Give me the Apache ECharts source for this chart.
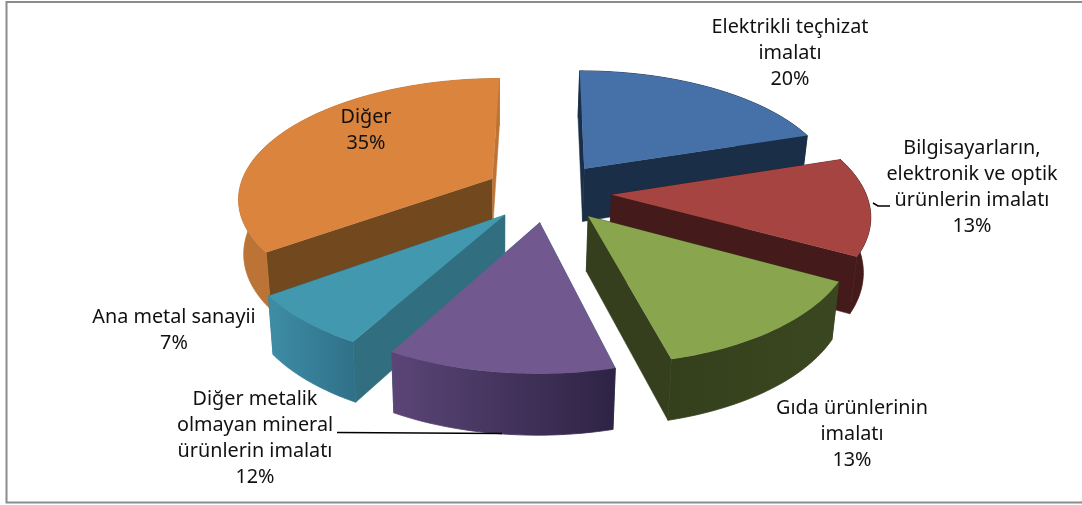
<!DOCTYPE html>
<html><head><meta charset="utf-8">
<style>html,body{margin:0;padding:0;background:#fff}#c{width:1082px;height:505px}</style>
<script src="https://cdn.jsdelivr.net/npm/echarts@6/dist/echarts.min.js"></script>
</head><body><div id="c"></div>
<script>
const categories = ['Elektrikli teçhizat\nimalatı','Bilgisayarların,\nelektronik ve optik\nürünlerin imalatı','Gıda ürünlerinin\nimalatı','Diğer metalik\nolmayan mineral\nürünlerin imalatı','Ana metal sanayii','Diğer'];
const values = [20,13,13,12,7,35];

const topColors = ['#4671A8','#A64441','#89A54E','#71588F','#4198AF','#DB843D'];
const startWall = ['#1A2E48','#441A1A','#353F1D','#316F80','#316F80','#72481F'];
const endWall = ['#1A2E48','#441A1A','#353F1D','#316F80','#316F80','#BC7436'];
const outerStops = [['#1A2E48','#1A2E48'],['#451A1A','#451A1A'],['#34401C','#3A4720'],['#5B4577','#2E2344'],['#3E8DA6','#2F7088'],['#BC7436','#BC7436']];
const labelPos = [[790,53.5],[972,187.5],[852,434.5],[255,438.5],[174,330.5],[366,130.5]];

const G = {cx:548, cy:192, rx:254, ry:118.7, k:0.148, explode:0.25, bottomScale:0.98, bottomShift:-1};
const total = values.reduce((a,b)=>a+b,0);
let acc = 0;
const slices = values.map((v,i)=>{const a0=acc/total*2*Math.PI; acc+=v; const a1=acc/total*2*Math.PI;
  const m=(a0+a1)/2; return {i,a0,a1,ex:G.explode*Math.sin(m),ey:-G.explode*Math.cos(m)};});
const order = slices.slice().sort((a,b)=>a.ey-b.ey).map(s=>s.i);

function proj(X,Y){const p=1/(1-G.k*Y); return [G.cx+G.rx*X*p, G.cy+G.ry*Y*p, Y];}
function bottom(P){return [G.cx+G.bottomShift+(P[0]-G.cx)*G.bottomScale, P[1]+54+6*P[2]];}
function rim(s,a){return proj(s.ex+Math.sin(a), s.ey-Math.cos(a));}
const xy=p=>p.slice(0,2);

function renderItem(params, api){
  const s = slices[order[params.dataIndex]];
  const apex = proj(s.ex,s.ey), apexB = bottom(apex);
  const arc=[]; const n=Math.max(8,Math.round((s.a1-s.a0)/(Math.PI/120)));
  for(let j=0;j<=n;j++) arc.push(rim(s,s.a0+(s.a1-s.a0)*j/n));
  const arcB=arc.map(bottom);
  const stops=outerStops[s.i];
  const wall=(pts,fill)=>({type:'polygon',silent:true,shape:{points:pts},style:{fill,stroke:fill,lineWidth:0.5}});
  const grad=()=>new echarts.graphic.LinearGradient(0,0,1,0,[{offset:0,color:stops[0]},{offset:1,color:stops[1]}]);
  const children=[
    wall([apex,arc[0],arcB[0],apexB].map(xy),startWall[s.i]),
    wall([apex,arc[n],arcB[n],apexB].map(xy),endWall[s.i]),
    {type:'polygon',silent:true,shape:{points:arc.map(xy).concat(arcB.slice().reverse())},
      style:{fill:grad(),stroke:grad(),lineWidth:0.8}},
    {type:'polygon',silent:true,shape:{points:[xy(apex)].concat(arc.map(xy))},style:{fill:topColors[s.i]}}
  ];
  return {type:'group',children};
}

const font='"Noto Sans"';
const chart=echarts.init(document.getElementById('c'),null,{renderer:'canvas'});
const pct=values.map(v=>v+'%');
chart.setOption({
  animation:false,
  backgroundColor:'#fff',
  series:[{type:'custom',coordinateSystem:'none',renderItem,data:order.map(i=>({name:categories[i],value:values[i]})),silent:true,clip:false}],
  graphic:[
    {type:'polyline',z:1,silent:true,shape:{points:[[1090,2],[6.5,2],[6.5,502.5],[1090,502.5]]},style:{fill:null,stroke:'#8c8c8c',lineWidth:2}},
    {type:'polyline',z:5,silent:true,shape:{points:[[873,203],[878,206],[890,206]]},style:{fill:null,stroke:'#000',lineWidth:1.5}},
    {type:'line',z:5,silent:true,shape:{x1:337,y1:432.5,x2:502,y2:433.5},style:{stroke:'#000',lineWidth:1.5}},
    ...categories.map((c,i)=>({type:'text',z:6,silent:true,x:labelPos[i][0],y:labelPos[i][1],
      style:{text:c+'\n'+pct[i],font:'19.8px '+font,fill:'#111',align:'center',verticalAlign:'middle',lineHeight:26}}))
  ]
});
</script></body></html>
